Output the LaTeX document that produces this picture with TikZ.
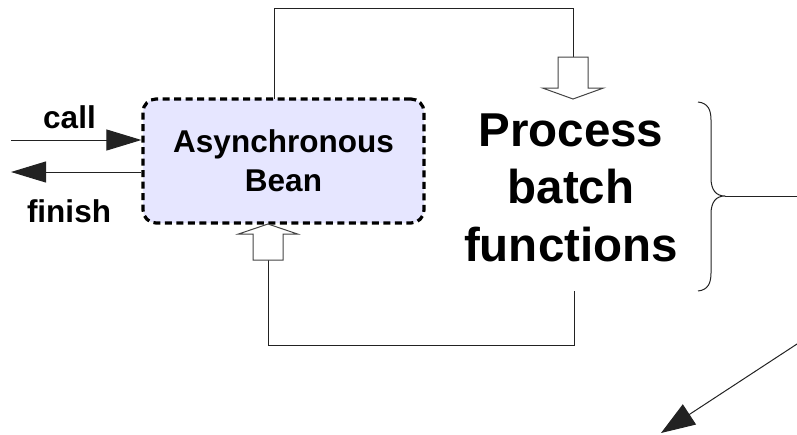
\documentclass[tikz,border=0pt]{standalone}
\usepackage{fontspec}
\setmainfont{Liberation Sans}
\usetikzlibrary{arrows.meta,calc}

\definecolor{beanfill}{HTML}{E6E6FF}
\definecolor{linegray}{HTML}{222222}
\definecolor{outlinegray}{HTML}{444444}

\tikzset{
  beanbox/.style={draw=black, fill=beanfill, line width=3.2pt,
    dash pattern=on 7pt off 4.5pt, rounded corners=13pt,
    minimum width=281pt, minimum height=124pt, inner sep=0pt,
    align=center, font=\fontsize{31.5}{39}\selectfont\bfseries},
  biglabel/.style={align=center, inner sep=0pt,
    font=\fontsize{47.5}{57.5}\selectfont\bfseries},
  smalllabel/.style={anchor=base, inner sep=0pt,
    font=\fontsize{31.5}{36}\selectfont\bfseries},
  wire/.style={draw=linegray, line width=1pt},
  solidarrow/.style={wire, -{Triangle[length=35pt,width=21pt]}},
  hollow/.style={draw=outlinegray, line width=1pt, fill=white, line join=miter},
  % block arrow pointing up, its base at the origin of the pic
  hollowup/.pic={
    \path[hollow] (-15,0) -- (-15,-26) -- (-29.5,-26) -- (0,-36)
      -- (29.5,-26) -- (15,-26) -- (15,0) -- cycle;
  },
  % block arrow pointing down, its base at the origin of the pic
  hollowdown/.pic={
    \path[hollow] (-15,0) -- (-15,31) -- (-30.5,31) -- (0,42)
      -- (30.5,31) -- (15,31) -- (15,0) -- cycle;
  },
}

\begin{document}
\begin{tikzpicture}[x=1pt, y=-1pt]
  \useasboundingbox (0,0) rectangle (797,434);

  % main blocks
  \node[beanbox] (bean) at (283.5,161) {Asynchronous\\Bean};
  \node[biglabel] (proc) at (571,187.5) {Process\\batch\\functions};

  % call / finish
  \coordinate (callin) at (11,140);
  \coordinate (finout) at (11,172);
  \draw[solidarrow] (callin) -- (bean.west |- callin);
  \draw[solidarrow] (bean.west |- finout) -- (finout);
  \node[smalllabel] (calltxt) at (69.5,128) {call};
  \node[smalllabel] (fintxt) at (69,222) {finish};

  % loop from the bean over the top into the process
  \coordinate (topstart) at (274,99);
  \coordinate (topleft) at (274,8);
  \coordinate (topright) at (573,8);
  \coordinate (downbase) at (573,57);
  \draw[wire] (topstart) -- (topleft) -- (topright) -- (downbase);
  \pic at (downbase) {hollowdown};

  % loop from the process back under into the bean
  \coordinate (procout) at (574,291);
  \coordinate (botright) at (574,345);
  \coordinate (botleft) at (268,345);
  \coordinate (upbase) at (268,260);
  \draw[wire] (procout) -- (botright) -- (botleft) -- (upbase);
  \pic at (upbase) {hollowup};

  % brace grouping the process text
  \coordinate (bracetip) at (725,196);
  \draw[wire, line join=round]
    (698,102) .. controls (708,103) and (711,110) .. (711,120)
    -- (711,178) .. controls (711,190) and (716,196) .. (bracetip)
    .. controls (716,196) and (711,202) .. (711,214)
    -- (711,273) .. controls (711,283) and (708,290) .. (698,291);
  \coordinate (braceout) at (797,196);
  \draw[wire] (bracetip) -- (braceout);

  % diagonal arrow leaving at the bottom right
  \coordinate (diagstart) at (797,344);
  \coordinate (diagend) at (661,433);
  \draw[wire, -{Triangle[length=34pt,width=24pt]}] (diagstart) -- (diagend);
\end{tikzpicture}
\end{document}
